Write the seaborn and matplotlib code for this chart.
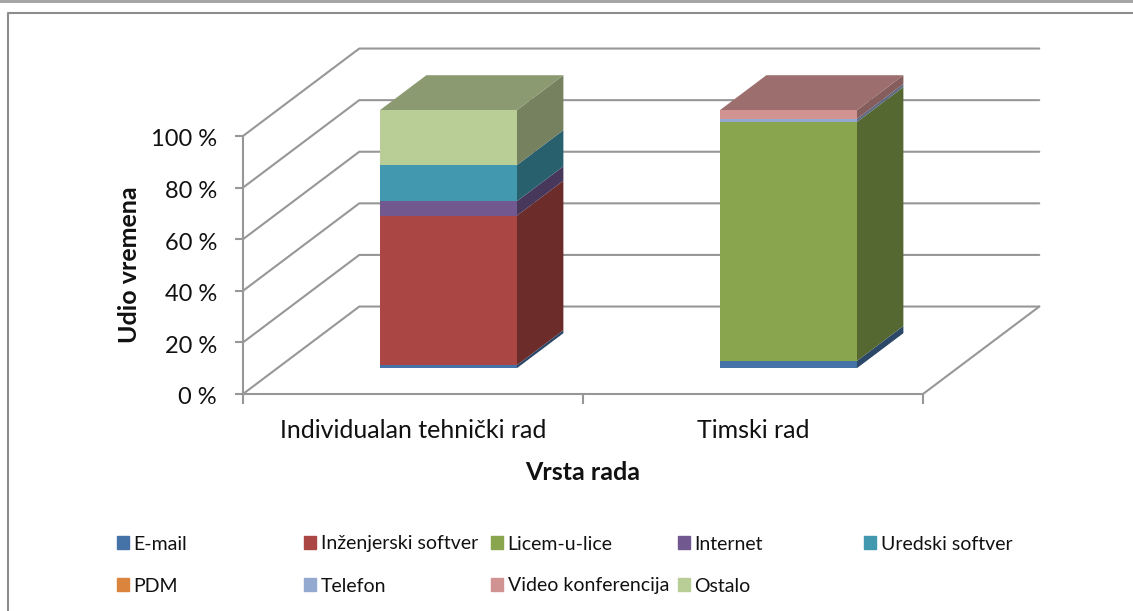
import matplotlib
matplotlib.use("Agg")
import matplotlib.pyplot as plt
import matplotlib.patches as mpatches
import matplotlib.transforms as mtransforms
import numpy as np
import seaborn as sns

categories = ["Individualan tehnički rad", "Timski rad"]
series_names = ["E-mail", "Inženjerski softver", "Licem-u-lice", "Internet", "Uredski softver",
                "PDM", "Telefon", "Video konferencija", "Ostalo"]
email = [1.2, 2.8]
inzenjerski = [57.9, 0]
licem = [0, 92.6]
internet = [5.6, 0]
uredski = [14.0, 0]
pdm = [0, 0]
telefon = [0, 1.2]
video = [0, 3.4]
ostalo = [21.3, 0]
colors = ["#4572A7", "#AA4643", "#89A54E", "#71588F", "#4198AF",
          "#DB843D", "#93A9CF", "#D19392", "#B9CD96"]
y_ticks = [0, 20, 40, 60, 80, 100]

series_values = [email, inzenjerski, licem, internet, uredski, pdm, telefon, video, ostalo]

sns.set_theme(style="white")
plt.rcParams['font.family'] = ['Lato', 'DejaVu Sans']

# pseudo 3D: full depth of the floor in data units
depth_x = 0.342
depth_y = 33.9
bar_front = 0.3
bar_back = 0.7
bar_shift = 0.104
bar_width = 0.403
grid_color = "#979797"
text_color = "#111111"

fig = plt.figure(figsize=(11.33, 6.11), dpi=100)
ax = fig.add_axes([243 / 1133, (611 - 394) / 611, 680 / 1133, 258 / 611])

x_left = -0.5 - bar_shift
x_right = 1.5 - bar_shift
floor_y = 10.0

# walls and floor
for t in y_ticks:
    ax.plot([x_left, x_left + depth_x, x_right + depth_x], [t, t + depth_y, t + depth_y],
            color=grid_color, lw=1.5, clip_on=False, zorder=1)
ax.plot([x_right, x_right + depth_x], [0, depth_y], color=grid_color, lw=1.5, clip_on=False, zorder=1)

dx = (bar_back - bar_front) * depth_x
dy = (bar_back - bar_front) * depth_y

# stacked front faces
base = np.zeros(2)
for name, vals, col in zip(series_names, series_values, colors):
    vals = np.array(vals, dtype=float)
    sns.barplot(x=categories, y=vals, bottom=base + floor_y, color=col, saturation=1,
                width=bar_width, ax=ax, clip_on=False, zorder=4, linewidth=0)
    # side faces
    for i in range(2):
        if vals[i] <= 0:
            continue
        xr = i + bar_width / 2
        y0 = base[i] + floor_y
        y1 = y0 + vals[i]
        side = np.array(matplotlib.colors.to_rgb(col)) * 0.63
        ax.fill([xr, xr + dx, xr + dx, xr], [y0, y0 + dy, y1 + dy, y1], color=side, lw=0,
                clip_on=False, zorder=3)
    base = base + vals

# top faces take the colour of the last series in each bar
for i in range(2):
    last = [k for k in range(len(series_values)) if series_values[k][i] > 0][-1]
    top = np.array(matplotlib.colors.to_rgb(colors[last])) * 0.75
    xl = i - bar_width / 2
    xr = i + bar_width / 2
    y1 = base[i] + floor_y
    ax.fill([xl, xr, xr + dx, xl + dx], [y1, y1, y1 + dy, y1 + dy], color=top, lw=0, clip_on=False, zorder=3)

ax.set_xlim(x_left, x_right)
ax.set_ylim(0, 100)
ax.patch.set_visible(False)

ax.set_yticks(y_ticks)
ax.set_yticklabels([f"{t} %" for t in y_ticks], fontsize=17, color=text_color)
ax.set_xticks([x_left, x_left + 1, x_right])
ax.set_xticklabels(["", "", ""])
ax.set_xticks([x_left + 0.5, x_left + 1.5], minor=True)
ax.set_xticklabels(categories, minor=True, fontsize=18, color=text_color)
ax.tick_params(axis="x", which="major", length=7, width=1.5, color=grid_color, bottom=True)
ax.tick_params(axis="x", which="minor", length=0, pad=18)
ax.tick_params(axis="y", length=6, width=1.5, color=grid_color, left=True, pad=12.7)

# nudge the y labels down a little
nudge = mtransforms.ScaledTranslation(0, -2 / 100, fig.dpi_scale_trans)
for lab in ax.get_yticklabels():
    lab.set_transform(lab.get_transform() + nudge)

for s in ["top", "right"]:
    ax.spines[s].set_visible(False)
for s in ["left", "bottom"]:
    ax.spines[s].set_color(grid_color)
    ax.spines[s].set_linewidth(1.5)

ax.set_xlabel("Vrsta rada", fontsize=18, fontweight="bold", color=text_color, labelpad=14)
ax.set_ylabel("Udio vremena", fontsize=18, fontweight="bold", color=text_color, labelpad=7)

# legend, one small legend per entry to get the equal column pitch
col_x = [117, 304, 491, 678, 864]
row_y = [544, 586]
for k, (name, col) in enumerate(zip(series_names, colors)):
    handle = mpatches.Patch(color=col, label=name)
    fig.legend(handles=[handle], loc="center left", frameon=False, fontsize=14,
               bbox_to_anchor=(col_x[k % 5] / 1133, 1 - row_y[k // 5] / 611), borderaxespad=0, borderpad=0,
               handlelength=0.6, handleheight=0.6, handletextpad=0.25, labelcolor=text_color)

# chart frame and top band of the page
fig.add_artist(plt.Line2D([8 / 1133, 8 / 1133, 1], [0, 1 - 13 / 611, 1 - 13 / 611], color="#8c8c8c", lw=1.5))
fig.add_artist(mpatches.Rectangle((0, 1 - 3 / 611), 1, 3 / 611, color="#a6a6a6", lw=0))

plt.savefig("out.png", dpi=100)
plt.close()
